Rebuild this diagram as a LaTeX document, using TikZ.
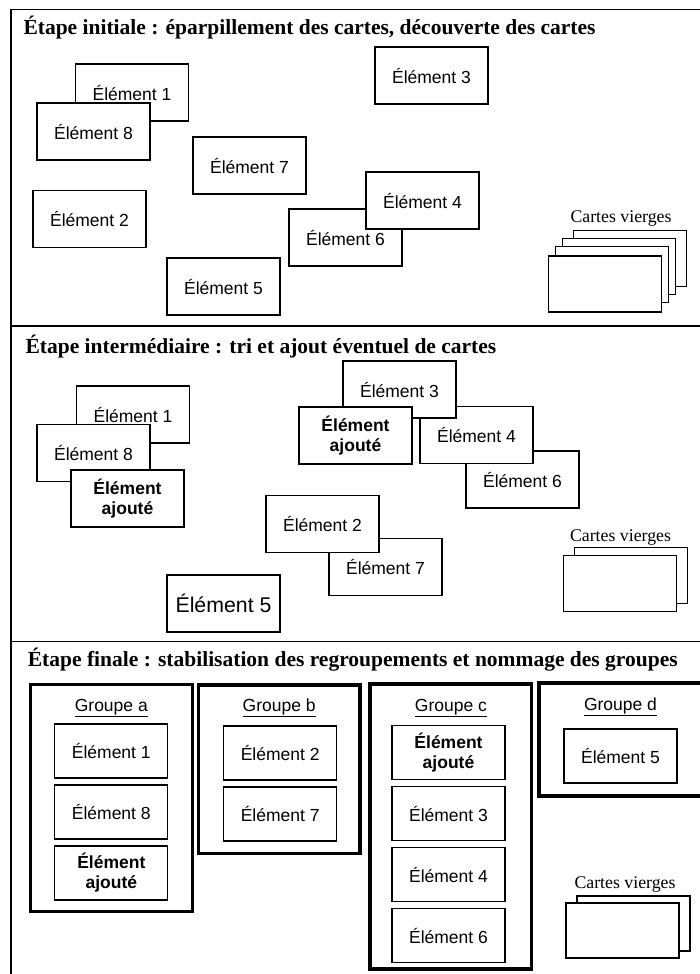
\documentclass[tikz,border=0pt]{standalone}
\usepackage{fontspec}
\setmainfont{Liberation Serif}
\setsansfont{Liberation Sans}
\usetikzlibrary{positioning}

\begin{document}
\begin{tikzpicture}[x=1pt,y=-1pt,node distance=61pt,on grid,
  carte/.style={draw,fill=white,line width=1.2pt,minimum width=113pt,minimum height=57pt,inner sep=2pt,align=center,font=\sffamily\fontsize{17.5}{20}\selectfont},
  petite/.style={carte,minimum height=54pt},
  ajout/.style={font=\sffamily\bfseries\fontsize{17.5}{20}\selectfont},
  vierge/.style={draw,fill=white,line width=1.2pt,minimum width=113pt,minimum height=56pt},
  titre/.style={anchor=base west,inner sep=0pt,font=\bfseries\fontsize{21.5}{24}\selectfont},
  legende/.style={anchor=base,inner sep=0pt,font=\fontsize{17.8}{20}\selectfont},
  groupe/.style={draw,line width=3.3pt},
  nom/.style={anchor=base,inner sep=0pt,font=\sffamily\fontsize{17.5}{20}\selectfont},
  cadre/.style={line width=1.5pt}]
\useasboundingbox (0,0) rectangle (700,974);
\clip (0,0) rectangle (700,974);
\draw[cadre] (11,974) -- (11,9.5) -- (710,9.5);
\draw[cadre] (11,326) -- (710,326);
\draw[cadre] (11,641.5) -- (710,641.5);

\node[titre] (t_i) at (23.3,34.3) {Étape initiale : éparpillement des cartes, découverte des cartes};
\node[carte] (i_1) at (132,92.5) {Élément 1};
\node[carte] (i_8) at (93.5,131.5) {Élément 8};
\node[carte] (i_3) at (431.5,75.5) {Élément 3};
\node[carte] (i_7) at (249.5,165.5) {Élément 7};
\node[carte] (i_2) at (89.5,219) {Élément 2};
\node[carte] (i_6) at (345.5,237.5) {Élément 6};
\node[carte] (i_4) at (422.5,200.5) {Élément 4};
\node[carte] (i_5) at (223.5,286.5) {Élément 5};
\node[legende] (i_v) at (621,222.7) {Cartes vierges};
\node[vierge] (i_v4) at (630,258.5) {};
\node[vierge] (i_v3) at (619,266.5) {};
\node[vierge] (i_v2) at (612,274.5) {};
\node[vierge] (i_v1) at (605,284) {};

\node[titre] (t_m) at (25.4,353.3) {Étape intermédiaire : tri et ajout éventuel de cartes};
\node[carte] (m_1) at (133,414.5) {Élément 1};
\node[carte] (m_8) at (93.5,453) {Élément 8};
\node[carte,ajout] (m_a1) at (127.5,498.5) {Élément\\ajouté};
\node[carte] (m_6) at (522.5,479.5) {Élément 6};
\node[carte] (m_4) at (476.5,435) {Élément 4};
\node[carte] (m_3) at (399.5,389.5) {Élément 3};
\node[carte,ajout] (m_a2) at (355.5,435.5) {Élément\\ajouté};
\node[carte] (m_7) at (385.5,567) {Élément 7};
\node[carte] (m_2) at (322.5,524) {Élément 2};
\node[carte,font=\sffamily\fontsize{21.3}{24}\selectfont] (m_5) at (223.5,603.5) {Élément 5};
\node[legende] (m_v) at (620.5,541.7) {Cartes vierges};
\node[vierge] (m_v2) at (630.8,575.3) {};
\node[vierge] (m_v1) at (620,583.2) {};

\node[titre] (t_f) at (27.7,666.7) {Étape finale : stabilisation des regroupements et nommage des groupes};
\node[groupe,minimum width=162pt,minimum height=227.4pt] (g_a) at (111.3,798) {};
\node[groupe,minimum width=161.7pt,minimum height=168.3pt] (g_b) at (279.2,769.2) {};
\node[groupe,minimum width=161.7pt,minimum height=285pt] (g_c) at (450.9,826.5) {};
\node[groupe,minimum width=163pt,minimum height=113pt] (g_d) at (620.5,739.5) {};
\node[nom] (g_a_t) at (111.3,711) {\underline{Groupe a}};
\node[nom] (g_b_t) at (279.2,711) {\underline{Groupe b}};
\node[nom] (g_c_t) at (450.9,711) {\underline{Groupe c}};
\node[nom] (g_d_t) at (620.5,710) {\underline{Groupe d}};
\node[petite] (f_1) at (111.3,751) {Élément 1};
\node[petite] (f_8) [below = of f_1] {Élément 8};
\node[petite,ajout] (f_a1) [below = of f_8] {Élément\\ajouté};
\node[petite] (f_2) at (280.2,753) {Élément 2};
\node[petite] (f_7) [below = of f_2] {Élément 7};
\node[petite,ajout] (f_a2) at (448.5,752.5) {Élément\\ajouté};
\node[petite] (f_3) [below = of f_a2] {Élément 3};
\node[petite] (f_4) [below = of f_3] {Élément 4};
\node[petite] (f_6) [below = of f_4] {Élément 6};
\node[petite] (f_5) at (620.5,756) {Élément 5};
\node[legende] (f_v) at (625,888) {Cartes vierges};
\node[vierge,minimum height=55pt] (f_v2) at (633.5,923.5) {};
\node[vierge,minimum height=55pt] (f_v1) at (622.5,930.5) {};
\end{tikzpicture}
\end{document}
